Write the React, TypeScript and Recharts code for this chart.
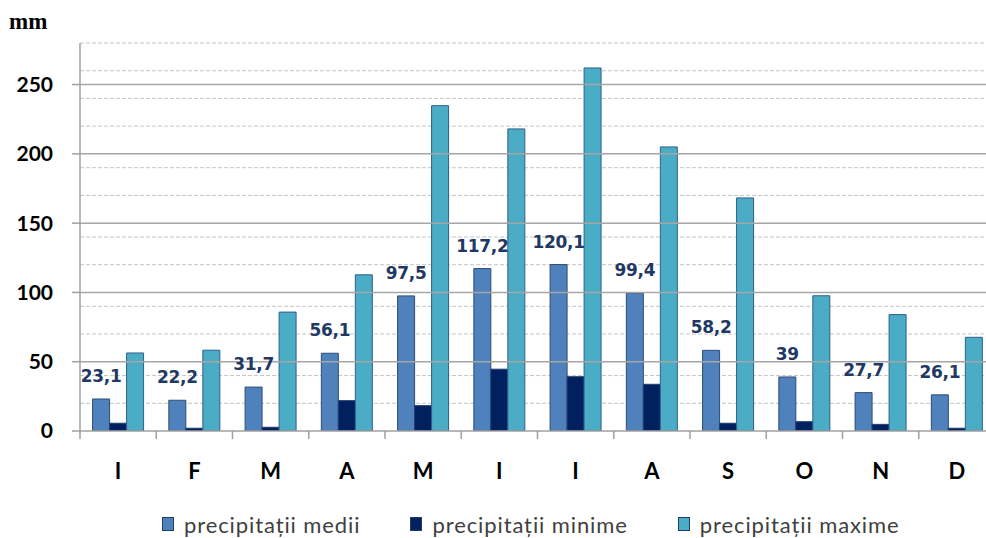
import React from 'react';
import { BarChart, Bar, XAxis, YAxis, CartesianGrid, ReferenceLine, Legend, LabelList } from 'recharts';

const months = ['I', 'F', 'M', 'A', 'M', 'I', 'I', 'A', 'S', 'O', 'N', 'D'];
const medii = [23.1, 22.2, 31.7, 56.1, 97.5, 117.2, 120.1, 99.4, 58.2, 39, 27.7, 26.1];
const minime = [5.6, 2, 2.7, 21.9, 18.3, 44.6, 39.2, 33.7, 5.6, 6.7, 4.8, 2];
const maxime = [56.3, 58.3, 85.8, 112.7, 234.8, 218, 262, 205, 168.2, 97.6, 84, 67.6];
const majorTicks = [0, 50, 100, 150, 200, 250];
const minorTicks = [10, 20, 30, 40, 60, 70, 80, 90, 110, 120, 130, 140, 160, 170, 180, 190, 210, 220, 230, 240, 260, 270, 280];
const seriesNames = ['precipitații medii', 'precipitații minime', 'precipitații maxime'];
const seriesColors = ['#4f81bd', '#002060', '#4bacc6'];
const seriesStrokes = ['#2c4d75', '#1f3e6e', '#2e5f8a'];

const data = months.map((m, i) => ({
  m,
  medii: medii[i],
  minime: minime[i],
  maxime: maxime[i],
}));

const CHART_W = 1000;
const CHART_H = 538;
const Y_W = 80;
const M_RIGHT = 5;
const BAND = (CHART_W - Y_W - M_RIGHT) / months.length;

const fmt = (v: any) => String(v).replace('.', ',');

const XTick = (props: any) => {
  const { x, y, payload } = props;
  const half = payload && typeof payload.offset === 'number' && payload.offset > 0 ? payload.offset : BAND / 2;
  return (
    <g>
      <line x1={x - half} x2={x - half} y1={y} y2={y + 8} stroke="#a0a0a0" strokeWidth={1.5} />
      <text
        x={x}
        y={y + 48}
        textAnchor="middle"
        fontFamily="Lato, 'Liberation Sans', sans-serif"
        fontWeight={700}
        fontSize={22}
        fill="#000"
      >
        {payload.value}
      </text>
    </g>
  );
};

const renderLegend = () => (
  <div style={{ display: 'flex', paddingLeft: 162, alignItems: 'center', height: 28 }}>
    {seriesNames.map((name, i) => (
      <div key={i} style={{ display: 'flex', alignItems: 'center', marginRight: 50 }}>
        <span
          style={{
            display: 'inline-block',
            width: 10,
            height: 12,
            background: seriesColors[i],
            border: '1px solid #1f3e6e',
            marginRight: 10,
          }}
        />
        <span style={{ fontFamily: "Lato, 'Open Sans', sans-serif", fontSize: 22, letterSpacing: 0.9, color: '#404040' }}>
          {name}
        </span>
      </div>
    ))}
  </div>
);

export default function App() {
  return (
    <div style={{ position: 'absolute', left: 0, top: 0, width: 986, height: 538, overflow: 'hidden', background: '#fff' }}>
      <svg style={{ position: 'absolute', left: 0, top: 0 }} width={80} height={40}>
        <text x={9} y={29} fontFamily="'Liberation Serif', 'Times New Roman', serif" fontWeight={700} fontSize={23} fill="#000">
          mm
        </text>
      </svg>
      <BarChart
        width={CHART_W}
        height={CHART_H}
        data={data}
        margin={{ top: 43, right: M_RIGHT, bottom: 0, left: 0 }}
        barCategoryGap="16.5%"
        barGap={0}
      >
        <CartesianGrid
          vertical={false}
          horizontalValues={minorTicks}
          stroke="#c4c4c4"
          strokeDasharray="4 2"
        />
        {majorTicks.slice(1).map((v) => (
          <ReferenceLine key={v} y={v} stroke="#a6a6a6" strokeWidth={1.5} />
        ))}
        <XAxis
          dataKey="m"
          height={79}
          axisLine={{ stroke: '#a0a0a0', strokeWidth: 1.5 }}
          tickLine={false}
          tickSize={0}
          tickMargin={0}
          tick={<XTick />}
          interval={0}
        />
        <YAxis
          width={Y_W}
          domain={[0, 280]}
          ticks={majorTicks}
          allowDataOverflow
          axisLine={{ stroke: '#a0a0a0', strokeWidth: 1.5 }}
          tickLine={{ stroke: '#a0a0a0', strokeWidth: 1.5 }}
          tickSize={8}
          tickMargin={19}
          tick={{ fontFamily: "Lato, 'Liberation Sans', sans-serif", fontWeight: 700, fontSize: 21, fill: '#000' }}
        />
        <Legend verticalAlign="bottom" content={renderLegend} wrapperStyle={{ left: 0, width: 986, height: 28 }} />
        <Bar dataKey="medii" name={seriesNames[0]} fill={seriesColors[0]} stroke={seriesStrokes[0]} strokeWidth={1} isAnimationActive={false}>
          <LabelList
            dataKey="medii"
            position="top"
            offset={17}
            formatter={fmt}
            style={{ fontFamily: "'DejaVu Sans', Verdana, sans-serif", fontWeight: 700, fontSize: 17, fill: '#1f3864', letterSpacing: -0.3 }}
          />
        </Bar>
        <Bar dataKey="minime" name={seriesNames[1]} fill={seriesColors[1]} stroke={seriesStrokes[1]} strokeWidth={1} isAnimationActive={false} />
        <Bar dataKey="maxime" name={seriesNames[2]} fill={seriesColors[2]} stroke={seriesStrokes[2]} strokeWidth={1} isAnimationActive={false} />
      </BarChart>
    </div>
  );
}
